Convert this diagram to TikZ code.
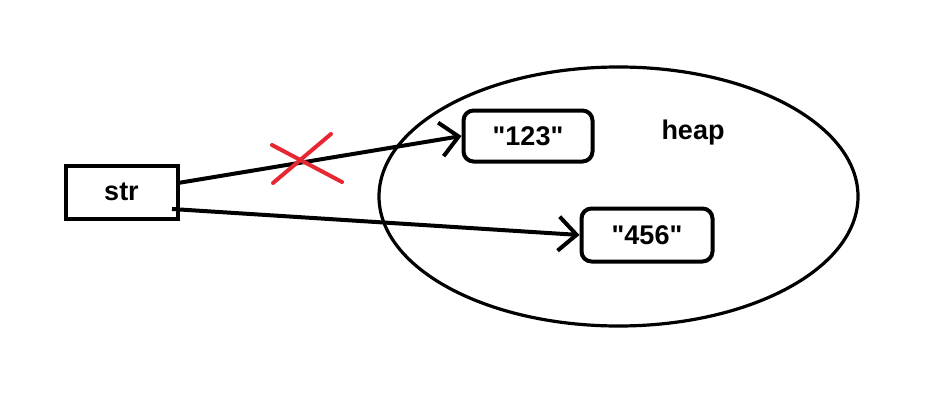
\documentclass[tikz,border=0pt]{standalone}
\usepackage{fontspec}
\setmainfont{Liberation Sans}
\usetikzlibrary{arrows.meta,shapes.geometric}
\definecolor{crossred}{RGB}{230,40,50}
\begin{document}
\begin{tikzpicture}[x=1pt,y=1pt,
  lbl/.style={font=\fontsize{27}{30}\selectfont\bfseries},
  box/.style={draw,line width=4pt,inner sep=0pt,lbl},
  rbox/.style={box,rounded corners=10pt},
  arr/.style={line width=4pt,-{Straight Barb[length=18pt,width=34pt,line width=4pt]}},
  crossline/.style={draw=crossred,line width=4pt,line cap=round}]
\useasboundingbox (0,0) rectangle (936,400);
\node[draw,ellipse,line width=3.2pt,minimum width=479pt,minimum height=259pt,inner sep=0pt] (heap) at (618.5,203.5) {};
\node[box,minimum width=112pt,minimum height=53pt] (str) at (121.5,208) {str};
\node[rbox,minimum width=129pt,minimum height=51pt] (a) at (528,264) {\textquotedbl 123\textquotedbl};
\node[rbox,minimum width=131pt,minimum height=53pt] (b) at (647,165) {\textquotedbl 456\textquotedbl};
\node[lbl] (heaplbl) at (693,267) {heap};
\coordinate (s1) at (178,217);
\coordinate (s2) at (172,191);
\draw[arr] (s1) -- (a.west);
\draw[arr] (s2) -- (b.west);
\coordinate (c1) at (272,255);
\coordinate (c2) at (342,218);
\coordinate (c3) at (273,217);
\coordinate (c4) at (331,266);
\draw[crossline] (c1) -- (c2);
\draw[crossline] (c3) -- (c4);
\end{tikzpicture}
\end{document}
